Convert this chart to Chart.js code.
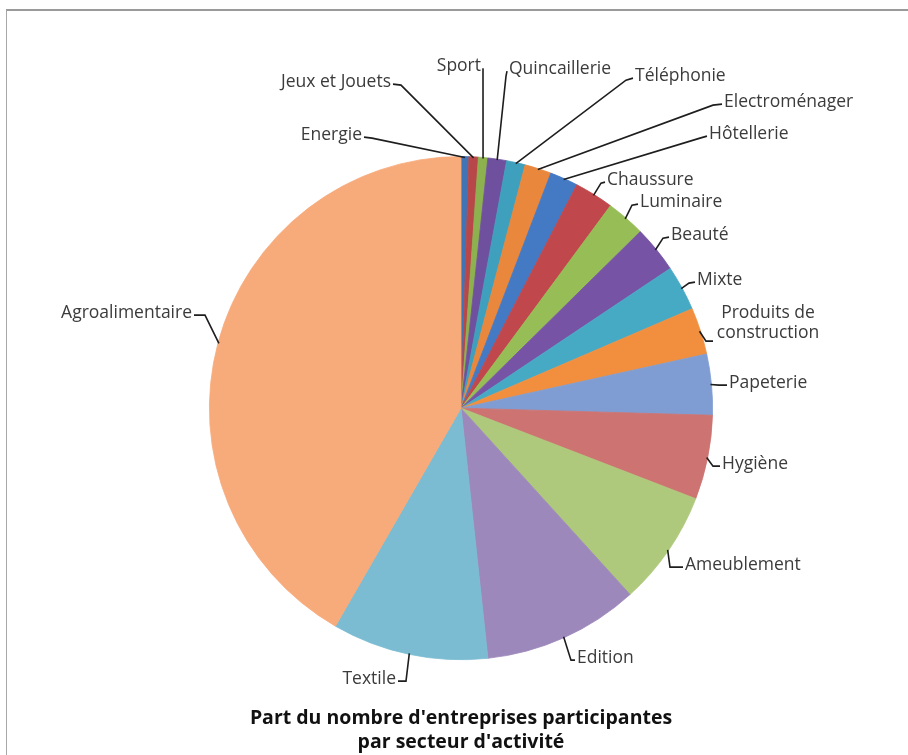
<!DOCTYPE html>
<html>
<head>
<meta charset="utf-8">
<script src="https://cdn.jsdelivr.net/npm/chart.js@4.4.1/dist/chart.umd.min.js"></script>
<style>
  html, body { margin: 0; padding: 0; background: #ffffff; overflow: hidden; }
  #wrap { position: relative; width: 908px; height: 755px; overflow: hidden; }
  #frame { position: absolute; left: 6px; top: 9px; width: 940px; height: 800px;
           border-top: 2px solid #9a9a9a; border-left: 1px solid #a8a8a8; box-sizing: border-box; }
  canvas { position: absolute; left: 0; top: 0; }
</style>
</head>
<body>
<div id="wrap">
  <div id="frame"></div>
  <canvas id="c" width="908" height="755"></canvas>
</div>
<script>
// ---- Data (share of participating companies, %) ----
const sectors = [
  "Energie", "Jeux et Jouets", "Sport", "Quincaillerie", "Téléphonie",
  "Electroménager", "Hôtellerie", "Chaussure", "Luminaire", "Beauté",
  "Mixte", "Produits de construction", "Papeterie", "Hygiène",
  "Ameublement", "Edition", "Textile", "Agroalimentaire"
];
const shares = [0.5, 0.6, 0.6, 1.2, 1.2, 1.7, 1.8, 2.5, 2.5, 3.0, 2.9, 3.0, 3.9, 5.4, 7.4, 10.0, 10.0, 41.6];
const sliceColors = [
  "#4174B4", "#B84749", "#8DB14F", "#6F509E", "#3FA0BD", "#E9873C",
  "#4479C3", "#C0474B", "#97BE56", "#7753A5", "#47AAC5", "#F28F3F",
  "#7F9DD2", "#CD7372", "#AEC97B", "#9D88BB", "#7BBCD2", "#F7AA7A"
];
const titleLines = ["Part du nombre d'entreprises participantes", "par secteur d'activité"];

// ---- Label placement (offsets in px from the pie centre) ----
// k = elbow of the leader, l = end of the leader next to the text
const labelLayout = [
  { k: [-89, -270], l: [-97, -271], align: "right" },
  { k: [-60, -323], l: [-68, -324], align: "right" },
  { k: [22, -334],  l: [22, -340],  align: "right" },
  { k: [45, -332],  l: [46, -337],  align: "left" },
  { k: [165, -328], l: [172, -330], align: "left" },
  { k: [252, -303], l: [261, -304], align: "left" },
  { k: [239, -270], l: [246, -272], align: "left" },
  { k: [140, -225], l: [144, -226], align: "left" },
  { k: [171, -203], l: [177, -204], align: "left" },
  { k: [202, -170], l: [208, -171], align: "left" },
  { k: [228, -125], l: [234, -126], align: "left" },
  { k: [245, -67],  l: [252, -67],  align: "center", t: [307, -95], lines: ["Produits de", "construction"] },
  { k: [258, -23],  l: [266, -23],  align: "left" },
  { k: [252, 58],   l: [259, 58],   align: "left" },
  { k: [209, 159],  l: [222, 159],  align: "left" },
  { k: [110, 252],  l: [114, 252],  align: "left" },
  { k: [-55, 273],  l: [-63, 273],  align: "right" },
  { k: [-256, -93], l: [-267, -93], align: "right" }
];

const LABEL_FONT = '17.5px "Open Sans", "DejaVu Sans", sans-serif';

const leaderLabels = {
  id: "leaderLabels",
  afterDatasetsDraw(chart) {
    const ctx = chart.ctx;
    const meta = chart.getDatasetMeta(0);
    ctx.save();
    ctx.font = LABEL_FONT;
    ctx.textBaseline = "middle";
    meta.data.forEach((arc, i) => {
      const p = arc.getProps(["x", "y", "startAngle", "endAngle", "outerRadius"], true);
      const mid = (p.startAngle + p.endAngle) / 2;
      const ex = p.x + Math.cos(mid) * (p.outerRadius - 1);
      const ey = p.y + Math.sin(mid) * (p.outerRadius - 1);
      const L = labelLayout[i];
      const kx = p.x + L.k[0], ky = p.y + L.k[1];
      const lx = p.x + L.l[0], ly = p.y + L.l[1];
      ctx.strokeStyle = "#1e1e1e";
      ctx.lineWidth = 1.6;
      ctx.beginPath();
      ctx.moveTo(ex, ey);
      ctx.lineTo(kx, ky);
      ctx.lineTo(lx, ly);
      ctx.stroke();
      ctx.fillStyle = "#3b3b3b";
      if (L.lines) {
        ctx.textAlign = "center";
        L.lines.forEach((s, j) => ctx.fillText(s, p.x + L.t[0], p.y + L.t[1] + j * 20));
      } else {
        ctx.textAlign = L.align;
        const tx = L.align === "left" ? lx + 2 : lx - 2;
        ctx.fillText(sectors[i], tx, ly - 2);
      }
    });
    ctx.restore();
  }
};

new Chart(document.getElementById("c"), {
  type: "pie",
  data: {
    labels: sectors,
    datasets: [{
      data: shares,
      backgroundColor: sliceColors,
      borderColor: sliceColors,
      borderWidth: 0.8
    }]
  },
  options: {
    responsive: false,
    animation: false,
    layout: { padding: { left: 209, right: 195, top: 156, bottom: 0 } },
    plugins: {
      legend: { display: false },
      tooltip: { enabled: false },
      title: {
        display: true,
        position: "bottom",
        text: titleLines,
        color: "#111111",
        font: { family: '"Open Sans", "DejaVu Sans", sans-serif', size: 19.5, weight: "bold", lineHeight: 1.25 },
        padding: { top: 46, bottom: 0 }
      }
    }
  },
  plugins: [leaderLabels]
});
</script>
</body>
</html>
